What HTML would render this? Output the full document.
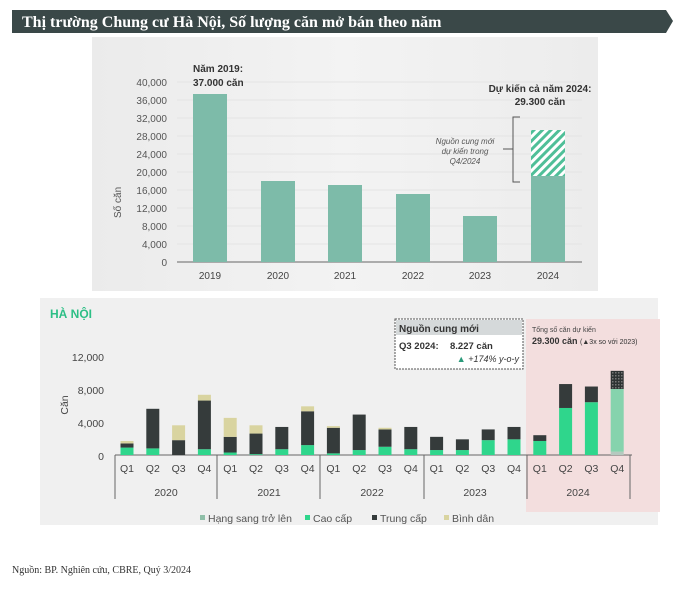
<!DOCTYPE html>
<html><head><meta charset="utf-8"><style>
body{margin:0;background:#fff;width:680px;height:607px;overflow:hidden}
svg text{font-family:"Liberation Sans",sans-serif}
</style></head><body>
<svg width="680" height="607" viewBox="0 0 680 607" xmlns="http://www.w3.org/2000/svg">
<defs>
<linearGradient id="g1" x1="0" x2="1"><stop offset="0" stop-color="#ebebeb"/><stop offset="0.5" stop-color="#f3f3f3"/><stop offset="1" stop-color="#ececec"/></linearGradient>
<pattern id="hatch" width="6" height="6" patternUnits="userSpaceOnUse" patternTransform="rotate(45)"><rect width="6" height="6" fill="#fff"/><rect width="3" height="6" fill="#4fbf98"/></pattern>
<pattern id="dots" width="3" height="3" patternUnits="userSpaceOnUse"><rect width="3" height="3" fill="#2e3333"/><rect width="1.5" height="1.5" fill="#777"/></pattern>
</defs>
<polygon points="12,10 666,10 673,21 666,33 12,33" fill="#3a4848"/>
<text x="22" y="27" fill="#fff" font-weight="bold" font-size="16" style="font-family:'Liberation Serif',serif">Thị trường Chung cư Hà Nội, Số lượng căn mở bán theo năm</text>
<rect x="92" y="37" width="506" height="254" fill="url(#g1)"/>
<g stroke="#e4e4e4" stroke-width="1">
<line x1="177" y1="82" x2="582" y2="82"/><line x1="177" y1="100" x2="582" y2="100"/><line x1="177" y1="118" x2="582" y2="118"/><line x1="177" y1="136" x2="582" y2="136"/><line x1="177" y1="154" x2="582" y2="154"/><line x1="177" y1="172" x2="582" y2="172"/><line x1="177" y1="190" x2="582" y2="190"/><line x1="177" y1="208" x2="582" y2="208"/><line x1="177" y1="226" x2="582" y2="226"/><line x1="177" y1="244" x2="582" y2="244"/>
</g>
<g font-size="10" fill="#555" text-anchor="end">
<text x="167" y="86">40,000</text><text x="167" y="104">36,000</text><text x="167" y="122">32,000</text><text x="167" y="140">28,000</text><text x="167" y="158">24,000</text><text x="167" y="176">20,000</text><text x="167" y="194">16,000</text><text x="167" y="212">12,000</text><text x="167" y="230">8,000</text><text x="167" y="248">4,000</text><text x="167" y="266">0</text>
</g>
<text transform="translate(121,218) rotate(-90)" font-size="10" fill="#555">Số căn</text>
<line x1="177" y1="262" x2="582" y2="262" stroke="#666" stroke-width="1"/>
<g fill="#7dbba9">
<rect x="193" y="94" width="34" height="168"/>
<rect x="261" y="181" width="34" height="81"/>
<rect x="328" y="185" width="34" height="77"/>
<rect x="396" y="194" width="34" height="68"/>
<rect x="463" y="216" width="34" height="46"/>
<rect x="531" y="176" width="34" height="86"/>
</g>
<rect x="531" y="130" width="34" height="46" fill="url(#hatch)"/>
<g font-size="10" fill="#444" text-anchor="middle">
<text x="210" y="279">2019</text><text x="278" y="279">2020</text><text x="345" y="279">2021</text><text x="413" y="279">2022</text><text x="480" y="279">2023</text><text x="548" y="279">2024</text>
</g>
<text x="193" y="72" font-size="10" font-weight="bold" fill="#333">Năm 2019:</text>
<text x="193" y="86" font-size="10" font-weight="bold" fill="#333">37.000 căn</text>
<text x="540" y="92" font-size="10" font-weight="bold" fill="#333" text-anchor="middle">Dự kiến cả năm 2024:</text>
<text x="540" y="105" font-size="10" font-weight="bold" fill="#333" text-anchor="middle">29.300 căn</text>
<path d="M520,117 H513 V182 H520 M513,149 H503" fill="none" stroke="#555" stroke-width="1"/>
<g font-size="8" fill="#555" font-style="italic" text-anchor="middle">
<text x="465" y="144">Nguồn cung mới</text><text x="465" y="154">dự kiến trong</text><text x="465" y="164">Q4/2024</text>
</g>
<rect x="40" y="298" width="618" height="227" fill="#f0f0f0"/>
<rect x="526" y="319" width="134" height="193" fill="#f3dede"/>
<text x="50" y="318" font-size="12" font-weight="bold" fill="#2dbf86">HÀ NỘI</text>
<g font-size="10.5" fill="#444" text-anchor="end">
<text x="104" y="361">12,000</text><text x="104" y="394">8,000</text><text x="104" y="427">4,000</text><text x="104" y="460">0</text>
</g>
<text transform="translate(68,405) rotate(-90)" font-size="10.5" fill="#444" text-anchor="middle">Căn</text>
<line x1="115" y1="455" x2="632" y2="455" stroke="#666"/>
<g id="bars"></g>
<g font-size="10.5" fill="#444" text-anchor="middle" id="ql"></g>
<g stroke="#666" stroke-width="1">
<line x1="115" y1="455" x2="115" y2="499"/><line x1="217" y1="455" x2="217" y2="499"/><line x1="320" y1="455" x2="320" y2="499"/><line x1="424" y1="455" x2="424" y2="499"/><line x1="527" y1="455" x2="527" y2="499"/><line x1="630" y1="455" x2="630" y2="499"/>
</g>
<g font-size="10.5" fill="#444" text-anchor="middle">
<text x="166" y="496">2020</text><text x="269" y="496">2021</text><text x="372" y="496">2022</text><text x="475" y="496">2023</text><text x="578" y="496">2024</text>
</g>
<rect x="395" y="319" width="128" height="50" fill="#fff" stroke="#555" stroke-dasharray="2,1"/>
<rect x="396" y="320" width="126" height="15" fill="#d5d9da"/>
<text x="399" y="332" font-size="10" font-weight="bold" fill="#333">Nguồn cung mới</text>
<text x="399" y="349" font-size="9.5" font-weight="bold" fill="#333">Q3 2024:</text>
<text x="450" y="349" font-size="9.5" font-weight="bold" fill="#333">8.227 căn</text>
<text x="519" y="362" font-size="9" font-style="italic" fill="#333" text-anchor="end"><tspan fill="#2a9a7a">▲</tspan> +174% y-o-y</text>
<text x="532" y="332" font-size="7" fill="#444">Tổng số căn dự kiến</text>
<text x="532" y="344" font-size="9" font-weight="bold" fill="#333">29.300 căn <tspan font-size="7" font-weight="normal">(▲3x so với 2023)</tspan></text>
<g font-size="10.5" fill="#555">
<rect x="200" y="515" width="5" height="5" fill="#8fbfa8"/><text x="208" y="522">Hạng sang trở lên</text>
<rect x="305" y="515" width="5" height="5" fill="#2fd68c"/><text x="313" y="522">Cao cấp</text>
<rect x="372" y="515" width="5" height="5" fill="#353b3b"/><text x="380" y="522">Trung cấp</text>
<rect x="444" y="515" width="5" height="5" fill="#d9d4a0"/><text x="452" y="522">Bình dân</text>
</g>
<text x="12" y="573" font-size="10" fill="#333" style="font-family:'Liberation Serif',serif">Nguồn: BP. Nghiên cứu, CBRE, Quý 3/2024</text>
<script>
var d=[[900,1400,1700],[800,5600,5600],[0,1800,3600],[700,6600,7300],[300,2200,4500],[100,2600,3600],[700,3400,3400],[1200,5300,5900],[200,3300,3500],[600,4900,4900],[1000,3100,3300],[700,3400,3400],[600,2200,2200],[600,1900,1900],[1800,3100,3100],[1900,3400,3400],[1700,2400,2400],[5700,8600,8600],[6400,8300,8300]];
var ns="http://www.w3.org/2000/svg",g=document.getElementById('bars'),ql=document.getElementById('ql');
function r(x,v0,v1,c){if(v1<=v0)return;var e=document.createElementNS(ns,'rect');e.setAttribute('x',x);e.setAttribute('width',13);e.setAttribute('y',455-v1*0.00825);e.setAttribute('height',(v1-v0)*0.00825);e.setAttribute('fill',c);g.appendChild(e);}
for(var i=0;i<20;i++){var cx=127+i*25.8,x=cx-6.5;
if(i<19){var b=d[i];r(x,0,b[0],'#2fd68c');r(x,b[0],b[1],'#353b3b');r(x,b[1],b[2],'#d9d4a0');}
else{r(x,0,400,'#b5c9bf');r(x,400,8000,'#86d3ad');r(x,8000,10200,'url(#dots)');}
var t=document.createElementNS(ns,'text');t.setAttribute('x',cx);t.setAttribute('y',472);t.textContent='Q'+(i%4+1);ql.appendChild(t);}
</script>
</svg>
</body></html>
